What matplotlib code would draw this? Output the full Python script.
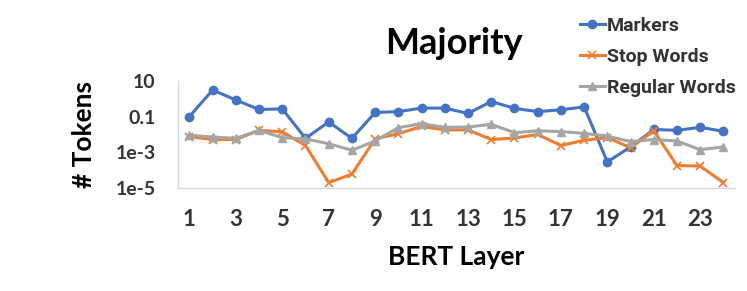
import numpy as np
import matplotlib
matplotlib.use("Agg")
from matplotlib import pyplot as plt

# data
layers = list(range(1, 25))
markers = [0.1, 3.1, 0.85, 0.25, 0.27, 0.006, 0.05, 0.006, 0.17, 0.19, 0.3, 0.3,
           0.15, 0.7, 0.29, 0.19, 0.24, 0.35, 0.00029, 0.002, 0.019, 0.017, 0.025, 0.015]
stop_words = [0.0075, 0.0052, 0.0052, 0.017, 0.014, 0.0024, 0.00002, 0.00006, 0.0057, 0.011,
              0.028, 0.018, 0.018, 0.0052, 0.0063, 0.01, 0.0024, 0.0047, 0.0066, 0.0018,
              0.016, 0.00018, 0.00017, 0.00002]
regular_words = [0.009, 0.0072, 0.006, 0.017, 0.0066, 0.0057, 0.003, 0.0013, 0.0043, 0.024,
                 0.04, 0.025, 0.026, 0.037, 0.0126, 0.016, 0.0145, 0.0115, 0.008, 0.004,
                 0.0052, 0.0043, 0.0014, 0.002]
x_ticks = list(range(1, 25, 2))
y_ticks = [1e-5, 1e-3, 0.1, 10]
y_tick_labels = ["1e-5", "1e-3", "0.1", "10"]

plt.rcParams['font.family'] = ['Lato', 'DejaVu Sans']
txt = '#333333'

fig = plt.figure(figsize=(7.47, 2.91), dpi=100)
ax = fig.add_axes([0.238, 0.354, 0.746, 0.368])

ax.plot(layers, markers, color='#4472C4', lw=2.2, marker='o', ms=6, label='Markers')
ax.plot(layers, stop_words, color='#ED7D31', lw=2.2, marker='x', ms=6, mew=1.2, label='Stop Words')
ax.plot(layers, regular_words, color='#A5A5A5', lw=2.2, marker='^', ms=6, label='Regular Words')

ax.set_yscale('log')
ax.set_ylim(1e-5, 10)
ax.set_xlim(0.5, 24.5)
ax.set_yticks(y_ticks)
ax.set_yticklabels(y_tick_labels)
ax.minorticks_off()
ax.set_xticks(x_ticks)
ax.tick_params(axis='both', length=0, colors=txt)
ax.tick_params(axis='y', labelsize=14, pad=16)
ax.tick_params(axis='x', labelsize=16, pad=15)
for lab in ax.get_xticklabels() + ax.get_yticklabels():
	lab.set_fontweight('bold')

for s in ['top', 'right']:
	ax.spines[s].set_visible(False)
for s in ['left', 'bottom']:
	ax.spines[s].set_color('#d9d9d9')
	ax.spines[s].set_linewidth(1)

ax.set_xlabel('BERT Layer', fontsize=19, fontweight='bold', labelpad=11)
ax.set_ylabel('# Tokens', fontsize=19, fontweight='bold', labelpad=14)
fig.text(0.607, 0.85, 'Majority', fontsize=26, fontweight='bold', ha='center', va='center')

leg = ax.legend(loc='upper left', bbox_to_anchor=(0.758, 0.99), bbox_transform=fig.transFigure,
	frameon=False, prop={'family': 'Roboto', 'weight': 'bold', 'size': 14},
	labelspacing=0.68, handlelength=1.3, handletextpad=0.1, borderpad=0.2)
for t in leg.get_texts():
	t.set_color(txt)

fig.savefig('out.png', dpi=100)
